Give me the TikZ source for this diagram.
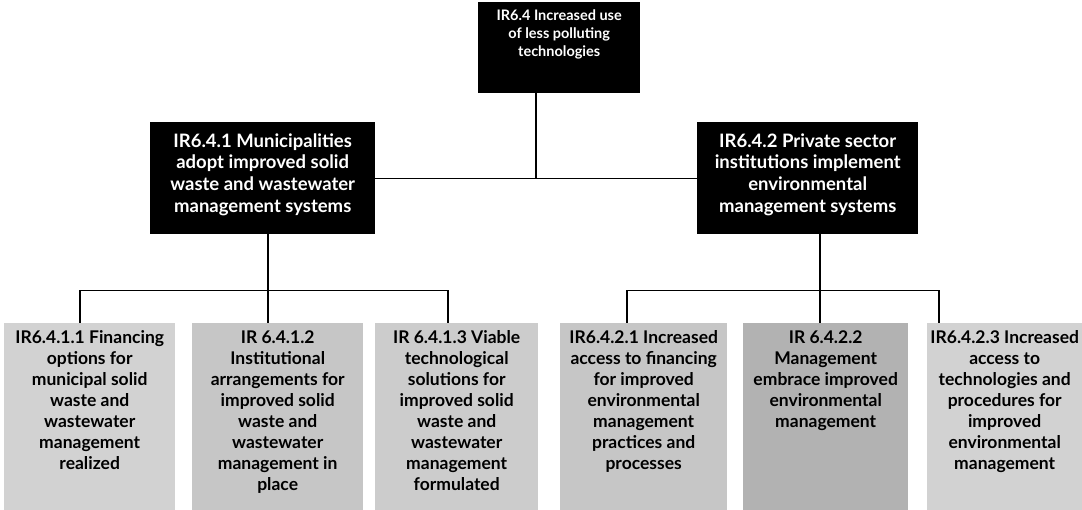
\documentclass[tikz,border=0pt]{standalone}
\usepackage{fontspec}
\setmainfont{Lato}
\usetikzlibrary{calc}
% text block of fixed size; the first baseline sits #3 below the top edge
\newcommand\cellbox[4]{\parbox[c][#2][t]{#1}{\centering\rule{0pt}{#3}#4\par}}
\begin{document}
\begin{tikzpicture}[x=1pt,y=-1pt,
  darkbox/.style={fill=black, text=white, inner sep=0pt, anchor=north west},
  leafbox/.style={fill=#1, text=black, inner sep=0pt, anchor=north west},
  wire/.style={draw=black, line width=1.1pt}]
\useasboundingbox (0,0) rectangle (1082,510);

% goal at the top
\node[darkbox] (ir64) at (478,2)
  {\cellbox{162pt}{91pt}{18pt}{\fontsize{14.5}{18}\selectfont\bfseries
   IR6.4 Increased use\\of less polluting\\technologies}};

% second level
\node[darkbox] (ir641) at (150,122)
  {\cellbox{225pt}{112pt}{25pt}{\fontsize{18.5}{21.7}\selectfont\bfseries
   IR6.4.1 Municipalities\\adopt improved solid\\waste and wastewater\\management systems}};
\node[darkbox] (ir642) at (697,122)
  {\cellbox{221pt}{112pt}{25pt}{\fontsize{18.5}{21.7}\selectfont\bfseries
   IR6.4.2 Private sector\\institutions implement\\environmental\\management systems}};

% third level
\node[leafbox=gray!35] (l1) at (4,323)
  {\cellbox{171pt}{187pt}{20pt}{\fontsize{17.5}{21}\selectfont\bfseries
   IR6.4.1.1 Financing\\options for\\municipal solid\\waste and\\wastewater\\management\\realized}};
\node[leafbox=gray!45] (l2) at (192,323)
  {\cellbox{171pt}{187pt}{20pt}{\fontsize{17.5}{21}\selectfont\bfseries
   IR 6.4.1.2\\Institutional\\arrangements for\\improved solid\\waste and\\wastewater\\management in\\place}};
\node[leafbox=gray!40] (l3) at (375,323)
  {\cellbox{163pt}{187pt}{20pt}{\fontsize{17.5}{21}\selectfont\bfseries
   IR 6.4.1.3 Viable\\technological\\solutions for\\improved solid\\waste and\\wastewater\\management\\formulated}};
\node[leafbox=gray!45] (l4) at (560,323)
  {\cellbox{167pt}{187pt}{20pt}{\fontsize{17.5}{21}\selectfont\bfseries
   IR6.4.2.1 Increased\\access to financing\\for improved\\environmental\\management\\practices and\\processes}};
\node[leafbox=gray!60] (l5) at (743,323)
  {\cellbox{165pt}{187pt}{20pt}{\fontsize{17.5}{21}\selectfont\bfseries
   IR 6.4.2.2\\Management\\embrace improved\\environmental\\management}};
\node[leafbox=gray!35] (l6) at (927,323)
  {\cellbox{155pt}{187pt}{20pt}{\fontsize{17.5}{21}\selectfont\bfseries
   IR6.4.2.3 Increased\\access to\\technologies and\\procedures for\\improved\\environmental\\management}};

% junction points
\coordinate (j0) at ($(ir64.south west)+(58,0)$);
\coordinate (j1) at ($(ir641.south west)+(118,0)$);
\coordinate (j2) at ($(ir642.south west)+(123,0)$);
\coordinate (b1) at ($(j1)+(0,56)$);
\coordinate (b2) at ($(j2)+(0,56)$);
\coordinate (d1) at ($(l1.north west)+(76,0)$);
\coordinate (d2) at ($(l2.north west)+(76,0)$);
\coordinate (d3) at ($(l3.north west)+(73,0)$);
\coordinate (d4) at ($(l4.north west)+(67,0)$);
\coordinate (d5) at ($(l5.north west)+(77,0)$);
\coordinate (d6) at ($(l6.north west)+(12,0)$);

% connectors
\draw[wire] (j0) -- (j0 |- ir641.east);
\draw[wire] (ir641.east) -- (ir642.west);
\draw[wire] (j1) -- (b1);
\draw[wire] (j2) -- (b2);
\draw[wire] (d1) |- (b1) -| (d3);
\draw[wire] (d2) -- (d2 |- b1);
\draw[wire] (d4) |- (b2) -| (d6);
\draw[wire] (d5) -- (d5 |- b2);
\end{tikzpicture}
\end{document}
